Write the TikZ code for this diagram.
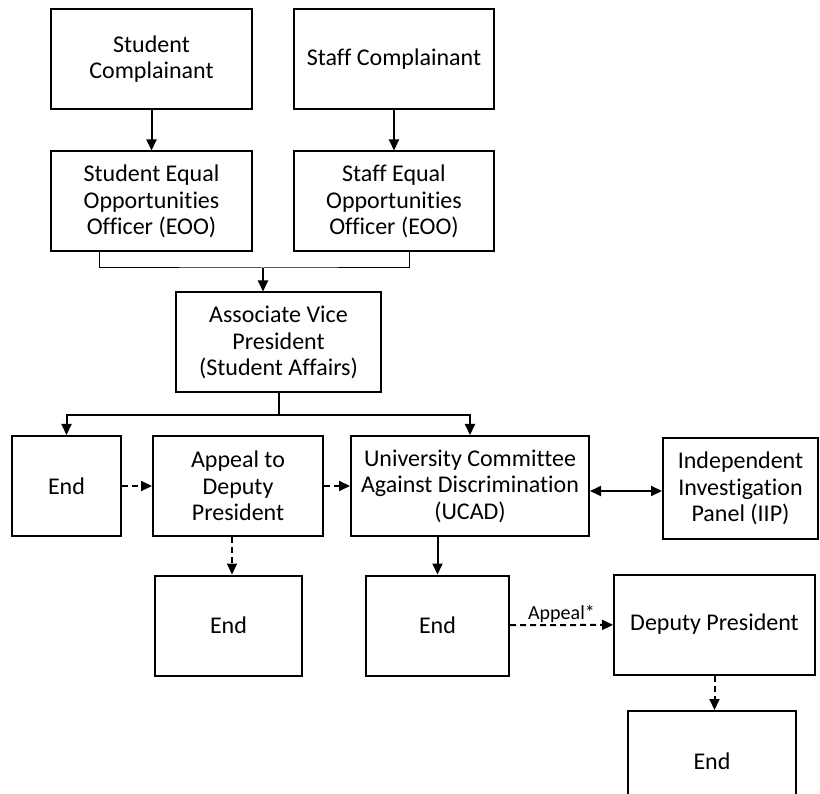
\documentclass[tikz,border=0pt]{standalone}
\usepackage{fontspec}
\setmainfont{Carlito}[Ligatures=NoCommon]
\usetikzlibrary{arrows.meta, positioning}

\begin{document}
\begin{tikzpicture}[x=1pt, y=-1pt,
  box/.style={draw, line width=2pt, minimum height=100pt, inner sep=0pt,
              align=center, font=\fontsize{24}{26.5}\selectfont},
  arr/.style={-{Triangle[length=11pt, width=10pt]}, line width=2pt},
  darr/.style={arr, dash pattern=on 6pt off 4pt},
  thinline/.style={line width=1pt},
  lbl/.style={font=\fontsize{20}{22}\selectfont, inner sep=1pt}
]
\useasboundingbox (0,0) rectangle (820,794);
\clip (0,0) rectangle (820,794);

\node[box, minimum width=201pt] (stucomp) at (151.5,59)    {Student\\Complainant};
\node[box, minimum width=200pt] (stfcomp) at (394,59)      {Staff Complainant};
\node[box, minimum width=201pt] (stueoo)  at (151.5,201.5) {Student Equal\\Opportunities\\Officer (EOO)};
\node[box, minimum width=200pt] (stfeoo)  at (394,201.5)   {Staff Equal\\Opportunities\\Officer (EOO)};
\node[box, minimum width=205pt] (avp)     at (278.5,342.5) {Associate Vice\\President\\(Student Affairs)};

\node[box, minimum width=109pt] (endA)    at (66.5,486)    {End};
\node[box, minimum width=170pt] (appeal)  at (238,486)     {Appeal to\\Deputy\\President};
\node[box, minimum width=238pt] (ucad)    at (470,486)     {University Committee\\Against Discrimination\\(UCAD)};
\node[box, minimum width=155pt] (iip)     at (740.5,488.5) {Independent\\Investigation\\Panel (IIP)};

\node[box, minimum width=147pt] (endB)    at (228.5,625.5) {End};
\node[box, minimum width=143pt] (endC)    at (437.5,625.5) {End};
\node[box, minimum width=201pt] (dp)      at (714.5,624.5) {Deputy President};
\node[box, minimum width=168pt] (endD)    at (712,761)     {End};

\coordinate (merge) at (263,268);
\coordinate (split) at (278.5,415);

\draw[arr] (stucomp) -- (stueoo);
\draw[arr] (stfcomp) -- (stfeoo);

% both EOO offices feed the AVP
\draw[thinline] ([xshift=-52.5pt]stueoo.south) |- (merge) -| ([xshift=15pt]stfeoo.south);
\draw[arr] (merge) -- (merge |- avp.north);

\draw[arr] (avp.south) -- (split) -| (endA.north);
\draw[arr] (split) -| (ucad.north);

\draw[darr] (endA) -- (appeal);
\draw[darr] (appeal) -- (ucad);
\draw[arr, {Triangle[length=11pt, width=10pt]}-{Triangle[length=11pt, width=10pt]}]
  ([yshift=-5pt]ucad.east) -- ([yshift=-5pt]ucad.east -| iip.west);

\draw[darr] ([xshift=-6pt]appeal.south) -- ([xshift=-6pt]appeal.south |- endB.north);
\draw[arr] (ucad.south -| endC.north) -- (endC.north);
\draw[darr] (endC) -- node[above, lbl] {Appeal*} (dp);
\draw[darr] (dp.south) -- (dp.south |- endD.north);
\end{tikzpicture}
\end{document}
